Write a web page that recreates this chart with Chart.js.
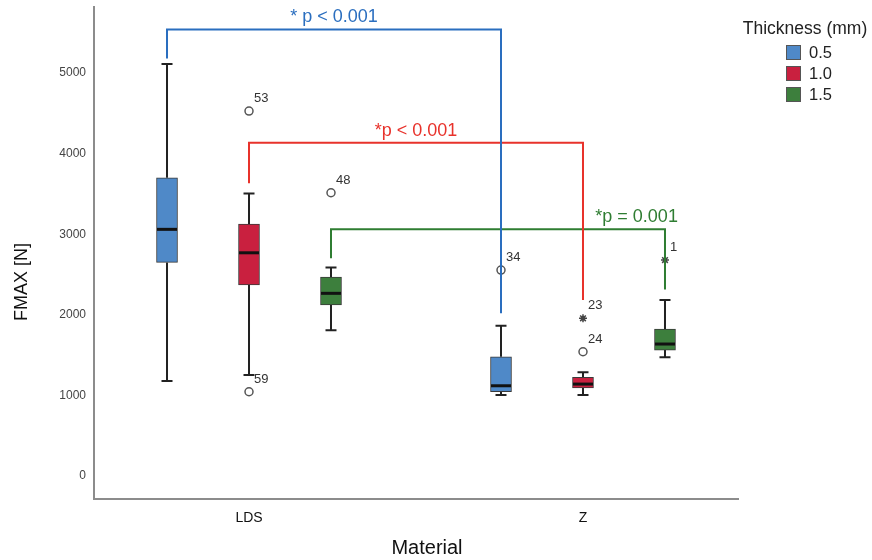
<!DOCTYPE html>
<html>
<head>
<meta charset="utf-8">
<title>FMAX by material and thickness</title>
<script src="https://cdn.jsdelivr.net/npm/chart.js@4.4.1/dist/chart.umd.min.js"></script>
<style>
  html, body { margin: 0; padding: 0; background: #fff; }
  #wrap { width: 872px; height: 560px; }
</style>
</head>
<body>
<div id="wrap"><canvas id="fmaxChart" width="872" height="560"></canvas></div>
<script>
var materials = ['LDS', 'Z'];
var thicknessLabels = ['0.5', '1.0', '1.5'];
var yTickValues = [0, 1000, 2000, 3000, 4000, 5000];

// box statistics, one row per thickness, columns = [LDS, Z]
var whiskerLow  = [[1179, 1005], [1253, 1005], [1808, 1473]];
var quartile1   = [[2651, 1046], [2370, 1092], [2122, 1563]];
var medians     = [[3061, 1120], [2770, 1141], [2267, 1638]];
var quartile3   = [[3701, 1480], [3127, 1225], [2469, 1824]];
var whiskerHigh = [[5112, 1865], [3507, 1287], [2589, 2184]];

// outliers (circle) and extremes (star)
var outlierSeries   = [1, 1, 2, 0, 1, 1, 2];
var outlierMaterial = [0, 0, 0, 1, 1, 1, 1];
var outlierValues   = [4529, 1046, 3515, 2556, 1542, 1957, 2680];
var outlierIds      = ['53', '59', '48', '34', '24', '23', '1'];
var outlierExtreme  = [false, false, false, false, false, true, true];

// significance brackets, one per thickness (LDS vs Z)
var bracketTexts    = ['* p < 0.001', '*p < 0.001', '*p = 0.001'];
var bracketTop      = [5542, 4135, 3061];
var bracketLeftEnd  = [5182, 3632, 2701];
var bracketRightEnd = [2019, 2184, 2316];

// look
var fillColors    = ['#4f89c8', '#c9203f', '#3d7f3d'];
var bracketColors = ['#2a6ebf', '#e8322b', '#2f7d32'];
var seriesOffset  = [-0.2455, 0, 0.2455];
var labelAlong    = [0.5, 0.5, 0.915];
var FONT = "'Liberation Sans', Arial, Helvetica, sans-serif";

Chart.defaults.font.family = FONT;

function xPos(i, j) { return j + 1 + seriesOffset[i]; }

var datasets = [];

thicknessLabels.forEach(function(t, i) {
  datasets.push({
    type: 'bar',
    label: t,
    data: materials.map(function(m, j) {
      return { x: xPos(i, j), y: [quartile1[i][j], quartile3[i][j]] };
    }),
    backgroundColor: fillColors[i],
    borderColor: '#3a3a3a',
    borderWidth: 1,
    borderSkipped: false,
    barThickness: 21,
    grouped: false,
    order: 2
  });
});

var circlePts = [], starPts = [];
outlierValues.forEach(function(v, k) {
  var p = { x: xPos(outlierSeries[k], outlierMaterial[k]), y: v };
  (outlierExtreme[k] ? starPts : circlePts).push(p);
});
datasets.push({
  type: 'scatter', label: 'outliers', data: circlePts,
  pointStyle: 'circle', pointRadius: 4, borderColor: '#555', borderWidth: 1.5,
  backgroundColor: 'rgba(0,0,0,0)', order: 1
});
datasets.push({
  type: 'scatter', label: 'extremes', data: starPts,
  pointStyle: 'star', pointRadius: 4, borderColor: '#444', borderWidth: 1.5,
  backgroundColor: 'rgba(0,0,0,0)', order: 1
});

bracketTexts.forEach(function(txt, i) {
  datasets.push({
    type: 'line', label: txt,
    data: [
      { x: xPos(i, 0), y: bracketLeftEnd[i] },
      { x: xPos(i, 0), y: bracketTop[i] },
      { x: xPos(i, 1), y: bracketTop[i] },
      { x: xPos(i, 1), y: bracketRightEnd[i] }
    ],
    borderColor: bracketColors[i], borderWidth: 2,
    pointRadius: 0, fill: false, tension: 0, order: 0
  });
});

var boxExtras = {
  id: 'boxExtras',
  beforeDatasetsDraw: function(chart) {
    var ctx = chart.ctx, xs = chart.scales.x, ys = chart.scales.y;
    ctx.save();
    ctx.strokeStyle = '#222';
    ctx.lineWidth = 2;
    thicknessLabels.forEach(function(t, i) {
      materials.forEach(function(m, j) {
        var px = xs.getPixelForValue(xPos(i, j));
        var lo = ys.getPixelForValue(whiskerLow[i][j]);
        var hi = ys.getPixelForValue(whiskerHigh[i][j]);
        ctx.beginPath();
        ctx.moveTo(px, ys.getPixelForValue(quartile1[i][j])); ctx.lineTo(px, lo);
        ctx.moveTo(px, ys.getPixelForValue(quartile3[i][j])); ctx.lineTo(px, hi);
        ctx.moveTo(px - 5.5, lo); ctx.lineTo(px + 5.5, lo);
        ctx.moveTo(px - 5.5, hi); ctx.lineTo(px + 5.5, hi);
        ctx.stroke();
      });
    });
    ctx.restore();
  },
  afterDatasetsDraw: function(chart) {
    var ctx = chart.ctx, xs = chart.scales.x, ys = chart.scales.y;
    ctx.save();
    // medians
    ctx.strokeStyle = '#111';
    ctx.lineWidth = 3;
    thicknessLabels.forEach(function(t, i) {
      materials.forEach(function(m, j) {
        var px = xs.getPixelForValue(xPos(i, j));
        var py = ys.getPixelForValue(medians[i][j]);
        ctx.beginPath();
        ctx.moveTo(px - 10, py); ctx.lineTo(px + 10, py);
        ctx.stroke();
      });
    });
    // case ids next to outliers
    ctx.fillStyle = '#333';
    ctx.font = '13px ' + FONT;
    ctx.textAlign = 'left';
    ctx.textBaseline = 'middle';
    outlierValues.forEach(function(v, k) {
      var px = xs.getPixelForValue(xPos(outlierSeries[k], outlierMaterial[k]));
      var py = ys.getPixelForValue(v);
      ctx.fillText(outlierIds[k], px + 5, py - 12.5);
    });
    // bracket labels
    ctx.font = '18px ' + FONT;
    ctx.textAlign = 'center';
    ctx.textBaseline = 'bottom';
    bracketTexts.forEach(function(txt, i) {
      var x0 = xs.getPixelForValue(xPos(i, 0));
      var x1 = xs.getPixelForValue(xPos(i, 1));
      ctx.fillStyle = bracketColors[i];
      ctx.fillText(txt, x0 + (x1 - x0) * labelAlong[i], ys.getPixelForValue(bracketTop[i]) - 3);
    });
    ctx.restore();
  },
  afterDraw: function(chart) {
    var ctx = chart.ctx;
    ctx.save();
    ctx.fillStyle = '#111';
    ctx.textAlign = 'center';
    ctx.textBaseline = 'middle';
    // axis titles
    ctx.font = '20px ' + FONT;
    ctx.fillText('Material', 427, 548);
    ctx.translate(22, 282);
    ctx.rotate(-Math.PI / 2);
    ctx.font = '18px ' + FONT;
    ctx.fillText('FMAX [N]', 0, 0);
    ctx.restore();

    // legend
    ctx.save();
    ctx.fillStyle = '#222';
    ctx.font = '17.5px ' + FONT;
    ctx.textAlign = 'center';
    ctx.textBaseline = 'middle';
    ctx.fillText('Thickness (mm)', 805, 29);
    ctx.textAlign = 'left';
    thicknessLabels.forEach(function(t, i) {
      var cy = 52.5 + i * 21;
      ctx.fillStyle = fillColors[i];
      ctx.fillRect(786, cy - 7.5, 15, 15);
      ctx.strokeStyle = '#555';
      ctx.lineWidth = 1;
      ctx.strokeRect(786.5, cy - 7, 14, 14);
      ctx.fillStyle = '#222';
      ctx.font = '16.5px ' + FONT;
      ctx.fillText(t, 809, cy + 1);
    });
    ctx.restore();
  }
};

new Chart(document.getElementById('fmaxChart'), {
  type: 'bar',
  data: { datasets: datasets },
  options: {
    responsive: false,
    animation: false,
    layout: { padding: { top: 7, right: 134, left: 0, bottom: 0 } },
    plugins: { legend: { display: false }, tooltip: { enabled: false } },
    scales: {
      x: {
        type: 'linear',
        min: 0.5359,
        max: 2.4641,
        offset: false,
        grid: { display: false, drawTicks: false },
        border: { display: true, color: '#8c8c8c', width: 2 },
        afterBuildTicks: function(scale) {
          scale.ticks = materials.map(function(m, j) { return { value: j + 1 }; });
        },
        afterFit: function(scale) {
          scale.height = 61;
          scale.paddingLeft = 0;
          scale.paddingRight = 0;
        },
        ticks: {
          padding: 11,
          color: '#111',
          font: { size: 14 },
          callback: function(v) { return materials[Math.round(v) - 1]; }
        }
      },
      y: {
        type: 'linear',
        min: -285,
        max: 5820,
        grid: { display: false, drawTicks: false },
        border: { display: true, color: '#8c8c8c', width: 2 },
        afterBuildTicks: function(scale) {
          scale.ticks = yTickValues.map(function(v) { return { value: v }; });
        },
        afterFit: function(scale) {
          scale.width = 94;
          scale.paddingTop = 0;
          scale.paddingBottom = 0;
        },
        ticks: {
          padding: 8,
          color: '#444',
          font: { size: 12 },
          callback: function(v) { return String(v); }
        }
      }
    }
  },
  plugins: [boxExtras]
});
</script>
</body>
</html>
